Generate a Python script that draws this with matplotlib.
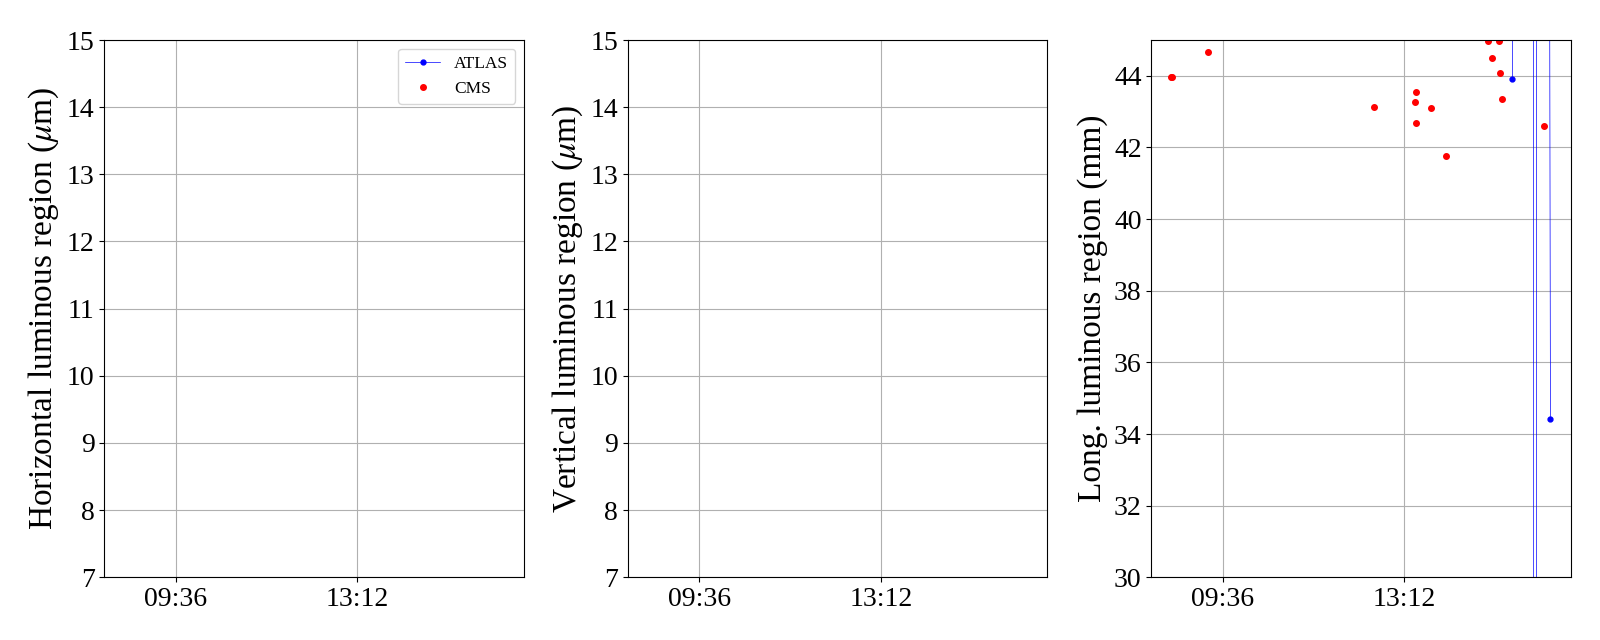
import datetime as dt
import matplotlib
matplotlib.use("Agg")
import matplotlib.pyplot as plt
import matplotlib.dates as mdates
from matplotlib.ticker import MultipleLocator

plt.rcParams['font.family'] = ['Liberation Serif', 'DejaVu Serif']
plt.rcParams['mathtext.fontset'] = 'stix'

day = dt.datetime(2018, 10, 24)

def t(hhmm):
    h, m = hhmm.split(':')
    return day + dt.timedelta(hours=int(h), minutes=float(m))

# CMS longitudinal luminous region (mm)
cms_times = ['08:34.5', '08:36', '09:19', '12:36', '13:26', '13:25', '13:25.5',
             '13:44', '14:02', '14:51', '15:05', '14:56', '15:06', '15:08', '15:58']
cms_long = [43.98, 43.98, 44.67, 43.14, 43.56, 43.28, 42.69,
            43.11, 41.75, 44.97, 44.97, 44.50, 44.08, 43.36, 42.61]

# ATLAS longitudinal luminous region (mm), some readings far off scale
atlas_times = ['15:20.4', '15:20.45', '15:44.1', '15:47.3', '15:50.5', '16:04', '16:05.6']
atlas_long = [43.92, 1000.0, 1000.0, -1000.0, 1000.0, 55.0, 34.42]

xlim = ['08:11.2', '16:29.7']

fig = plt.figure(figsize=(16, 6.4), dpi=100)
axes = [fig.add_axes([0.0652 + i * 0.3272, 0.098, 0.2621, 0.8395]) for i in range(3)]

ylabels = [r'Horizontal luminous region ($\mu$m)',
           r'Vertical luminous region ($\mu$m)',
           'Long. luminous region (mm)']

for ax, lab in zip(axes, ylabels):
    ax.set_xlim(mdates.date2num(t(xlim[0])), mdates.date2num(t(xlim[1])))
    ax.xaxis.set_major_locator(MultipleLocator(0.15))
    ax.xaxis.set_major_formatter(mdates.DateFormatter('%H:%M'))
    ax.set_ylabel(lab, fontsize=24)
    ax.tick_params(labelsize=20)
    ax.grid(True)

# empty transverse panels, legend handles only
axes[0].plot([], [], 'b.-', lw=0.5, ms=7, label='ATLAS')
axes[0].plot([], [], 'r.', ms=8, label='CMS')
axes[0].legend(loc='upper right', fontsize=12.5)
for ax in axes[:2]:
    ax.set_ylim(7, 15)
    ax.yaxis.set_major_locator(MultipleLocator(1))

ax = axes[2]
ax.plot([t(s) for s in atlas_times], atlas_long, 'b.-', lw=0.5, ms=7, label='ATLAS')
ax.plot([t(s) for s in cms_times], cms_long, 'r.', ms=8, label='CMS')
ax.set_ylim(30, 45)
ax.yaxis.set_major_locator(MultipleLocator(2))

fig.savefig('out.png', dpi=100)
